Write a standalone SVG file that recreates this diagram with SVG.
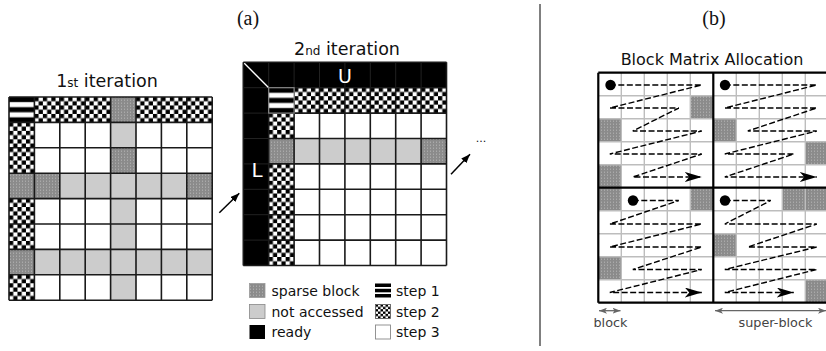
<svg xmlns="http://www.w3.org/2000/svg" width="826" height="351" viewBox="0 0 826 351">
<style>
text{font-family:"DejaVu Sans","Liberation Sans",sans-serif;fill:#111}
.serif{font-family:"Liberation Serif","DejaVu Serif",serif;font-size:20px}
.ttl{font-size:17.5px}
.leg{font-size:14px}
.ck{fill:url(#ck)}
.sp{fill:url(#sp)}
.na{fill:#cccccc}
.s1{fill:url(#s1)}
.gl{fill:none;stroke:#1a1a1a;stroke-width:1.6}
.glb{fill:none;stroke:#262626;stroke-width:0.9}
.rgl{fill:none;stroke:#bdbdbd;stroke-width:1.4}
.rbd{fill:none;stroke:#000;stroke-width:2.2}
.zz{fill:none;stroke:#000;stroke-width:1.4;stroke-dasharray:6 2.5}
.con{fill:none;stroke:#000;stroke-width:1.5}
.dim{fill:none;stroke:#666;stroke-width:1.3}
.dimt{font-size:12.8px;fill:#444}
</style>
<defs>
<pattern id="ck" patternUnits="objectBoundingBox" patternContentUnits="objectBoundingBox" width="0.33334" height="0.33334">
<rect width="0.33334" height="0.33334" fill="#fff"/>
<rect width="0.16667" height="0.16667" fill="#000"/>
<rect x="0.16667" y="0.16667" width="0.16667" height="0.16667" fill="#000"/>
</pattern>
<pattern id="s1" patternUnits="objectBoundingBox" patternContentUnits="objectBoundingBox" width="1" height="1">
<rect width="1" height="1" fill="#fff"/>
<rect width="1" height="0.2" fill="#000"/>
<rect y="0.4" width="1" height="0.2" fill="#000"/>
<rect y="0.8" width="1" height="0.2" fill="#000"/>
</pattern>
<pattern id="sp" patternUnits="userSpaceOnUse" width="3" height="3">
<rect width="3" height="3" fill="#8b8b8b"/>
<rect x="1" y="0.5" width="1" height="1.5" fill="#aaaaaa"/>
</pattern>
<marker id="big" markerUnits="userSpaceOnUse" viewBox="0 0 17 10" markerWidth="17" markerHeight="10" refX="17" refY="5" orient="auto">
<path d="M0,0 L17,5 L0,10 L4.5,5 Z" fill="#000" stroke="none"/>
</marker>
<marker id="sm" markerUnits="userSpaceOnUse" viewBox="0 0 9 7" markerWidth="9" markerHeight="7" refX="9" refY="3.5" orient="auto">
<path d="M0,0 L9,3.5 L0,7 Z" fill="#000" stroke="none"/>
</marker>
<marker id="gs" markerUnits="userSpaceOnUse" viewBox="0 0 8 6" markerWidth="8" markerHeight="6" refX="8" refY="3" orient="auto-start-reverse">
<path d="M0,0 L8,3 L0,6 L2,3 Z" fill="#666" stroke="none"/>
</marker>
</defs>
<rect width="826" height="351" fill="#fff"/>

<text class="serif" x="248" y="25" text-anchor="middle">(a)</text>
<text class="serif" x="714" y="25" text-anchor="middle">(b)</text>
<line x1="540" y1="4" x2="540" y2="346" stroke="#000" stroke-width="1"/>

<g id="iteration1">
<text class="ttl" x="107" y="87.3" text-anchor="middle">1<tspan font-size="12">st</tspan> iteration</text>
<rect x="9" y="97" width="203.2" height="203.2" fill="#fff"/>
<rect class="s1" x="9" y="97" width="25.4" height="25.4"/>
<rect class="ck" x="34.4" y="97" width="25.4" height="25.4"/>
<rect class="ck" x="59.8" y="97" width="25.4" height="25.4"/>
<rect class="ck" x="85.2" y="97" width="25.4" height="25.4"/>
<rect class="sp" x="110.6" y="97" width="25.4" height="25.4"/>
<rect class="ck" x="136" y="97" width="25.4" height="25.4"/>
<rect class="ck" x="161.4" y="97" width="25.4" height="25.4"/>
<rect class="ck" x="186.8" y="97" width="25.4" height="25.4"/>
<rect class="ck" x="9" y="122.4" width="25.4" height="25.4"/>
<rect class="na" x="110.6" y="122.4" width="25.4" height="25.4"/>
<rect class="ck" x="9" y="147.8" width="25.4" height="25.4"/>
<rect class="sp" x="110.6" y="147.8" width="25.4" height="25.4"/>
<rect class="sp" x="9" y="173.2" width="50.8" height="25.4"/>
<rect class="na" x="59.8" y="173.2" width="127" height="25.4"/>
<rect class="sp" x="186.8" y="173.2" width="25.4" height="25.4"/>
<rect class="ck" x="9" y="198.6" width="25.4" height="25.4"/>
<rect class="na" x="110.6" y="198.6" width="25.4" height="25.4"/>
<rect class="ck" x="9" y="224" width="25.4" height="25.4"/>
<rect class="na" x="110.6" y="224" width="25.4" height="25.4"/>
<rect class="sp" x="9" y="249.4" width="25.4" height="25.4"/>
<rect class="na" x="34.4" y="249.4" width="177.8" height="25.4"/>
<rect class="ck" x="9" y="274.8" width="25.4" height="25.4"/>
<rect class="na" x="110.6" y="274.8" width="25.4" height="25.4"/>
<path class="gl" d="M9 97V300.2M34.4 97V300.2M59.8 97V300.2M85.2 97V300.2M110.6 97V300.2M136 97V300.2M161.4 97V300.2M186.8 97V300.2M212.2 97V300.2M9 97H212.2M9 122.4H212.2M9 147.8H212.2M9 173.2H212.2M9 198.6H212.2M9 224H212.2M9 249.4H212.2M9 274.8H212.2M9 300.2H212.2"/>
</g>

<g id="iteration2">
<text class="ttl" x="347" y="55" text-anchor="middle">2<tspan font-size="12">nd</tspan> iteration</text>
<rect x="243.3" y="62.3" width="203.2" height="203.2" fill="#fff"/>
<rect x="243.3" y="62.3" width="203.2" height="25.4" fill="#000"/>
<rect x="243.3" y="62.3" width="25.4" height="203.2" fill="#000"/>
<path class="glb" d="M294.1 62.3V87.7M319.5 62.3V87.7M344.9 62.3V87.7M370.3 62.3V87.7M395.7 62.3V87.7M421.1 62.3V87.7M268.7 62.3V87.7M243.3 113.1H268.7M243.3 138.5H268.7M243.3 163.9H268.7M243.3 189.3H268.7M243.3 214.7H268.7M243.3 240.1H268.7M243.3 87.7H268.7"/>
<line x1="243.8" y1="62.8" x2="268.7" y2="87.7" stroke="#fff" stroke-width="1.3"/>
<text x="345" y="83" text-anchor="middle" font-size="19" style="fill:#fff">U</text>
<text x="257" y="176.5" text-anchor="middle" font-size="20" style="fill:#fff">L</text>
<rect class="ck" x="294.1" y="87.7" width="25.4" height="25.4"/>
<rect class="ck" x="319.5" y="87.7" width="25.4" height="25.4"/>
<rect class="ck" x="344.9" y="87.7" width="25.4" height="25.4"/>
<rect class="ck" x="370.3" y="87.7" width="25.4" height="25.4"/>
<rect class="ck" x="395.7" y="87.7" width="25.4" height="25.4"/>
<rect class="ck" x="421.1" y="87.7" width="25.4" height="25.4"/>
<rect class="ck" x="268.7" y="113.1" width="25.4" height="25.4"/>
<rect class="sp" x="268.7" y="138.5" width="25.4" height="25.4"/>
<rect class="na" x="294.1" y="138.5" width="127" height="25.4"/>
<rect class="sp" x="421.1" y="138.5" width="25.4" height="25.4"/>
<rect class="ck" x="268.7" y="163.9" width="25.4" height="25.4"/>
<rect class="ck" x="268.7" y="189.3" width="25.4" height="25.4"/>
<rect class="ck" x="268.7" y="214.7" width="25.4" height="25.4"/>
<rect class="ck" x="268.7" y="240.1" width="25.4" height="25.4"/>
<path class="gl" d="M294.1 87.7V265.5M319.5 87.7V265.5M344.9 87.7V265.5M370.3 87.7V265.5M395.7 87.7V265.5M421.1 87.7V265.5M446.5 62.3V265.5M268.7 113.1H446.5M268.7 138.5H446.5M268.7 163.9H446.5M268.7 189.3H446.5M268.7 214.7H446.5M268.7 240.1H446.5M243.3 265.5H446.5M268.7 87.7H446.5M268.7 87.7V265.5"/>
<rect class="s1" x="268.7" y="87.7" width="25.4" height="25.4" stroke="#8a8a8a" stroke-width="1.2"/>
<path class="gl" d="M243.3 62.3H446.5M243.3 62.3V265.5"/>
</g>

<g id="legend">
<rect class="sp" x="249.5" y="283.5" width="15.5" height="14" stroke="#999" stroke-width="0.8"/>
<text class="leg" x="271.5" y="295.5">sparse block</text>
<rect class="na" x="249.5" y="304.5" width="15.5" height="14" stroke="#888" stroke-width="0.8"/>
<text class="leg" x="271.5" y="316.5">not accessed</text>
<rect x="249.5" y="325" width="15.5" height="14" fill="#000"/>
<text class="leg" x="271.5" y="337">ready</text>
<rect x="375" y="283.5" width="16" height="3.5" fill="#000"/>
<rect x="375" y="288.8" width="16" height="3.5" fill="#000"/>
<rect x="375" y="294" width="16" height="3.5" fill="#000"/>
<text class="leg" x="396" y="295.5">step 1</text>
<rect class="ck" x="375.5" y="304.5" width="15" height="14" stroke="#555" stroke-width="0.8"/>
<text class="leg" x="396" y="316.5">step 2</text>
<rect x="375.5" y="325" width="15" height="14" fill="#fff" stroke="#888" stroke-width="0.9"/>
<text class="leg" x="396" y="337">step 3</text>
</g>

<g id="dots">
<text x="481" y="142" text-anchor="middle" font-size="11">...</text>
</g>

<g id="blockMatrix">
<text x="712" y="65" text-anchor="middle" font-size="16">Block Matrix Allocation</text>
<rect x="598.3" y="72.7" width="230" height="230" fill="#fff"/>
<rect class="sp" x="690.3" y="95.7" width="23" height="23"/>
<rect class="sp" x="598.3" y="118.7" width="23" height="23"/>
<rect class="sp" x="598.3" y="164.7" width="23" height="23"/>
<rect class="sp" x="713.3" y="118.7" width="23" height="23"/>
<rect class="sp" x="805.3" y="141.7" width="23" height="23"/>
<rect class="sp" x="598.3" y="187.7" width="23" height="23"/>
<rect class="sp" x="690.3" y="187.7" width="23" height="23"/>
<rect class="sp" x="598.3" y="256.7" width="23" height="23"/>
<rect class="sp" x="782.3" y="187.7" width="46" height="23"/>
<rect class="sp" x="713.3" y="233.7" width="23" height="23"/>
<rect class="sp" x="805.3" y="279.7" width="23" height="23"/>
<path class="rgl" d="M621.3 72.7V302.7M644.3 72.7V302.7M667.3 72.7V302.7M690.3 72.7V302.7M736.3 72.7V302.7M759.3 72.7V302.7M782.3 72.7V302.7M805.3 72.7V302.7M598.3 95.7H828M598.3 118.7H828M598.3 141.7H828M598.3 164.7H828M598.3 210.7H828M598.3 233.7H828M598.3 256.7H828M598.3 279.7H828"/>
<path class="rbd" d="M598.3 72.7H828M598.3 187.7H828M598.3 302.7H828M598.3 72.7V302.7M713.3 72.7V302.7"/>
<circle cx="610.5" cy="85" r="5.2" fill="#000"/>
<circle cx="725" cy="85" r="5.2" fill="#000"/>
<circle cx="633" cy="200.5" r="5.2" fill="#000"/>
<circle cx="725" cy="200.5" r="5.2" fill="#000"/>
</g>

<g id="connectors">
<path class="zz" marker-end="url(#big)" d="M609.8 85H701.8L609.8 108H678.8L632.8 131H701.8L609.8 154H701.8L632.8 177H701.8"/>
<path class="zz" marker-end="url(#big)" d="M724.8 85H816.8L724.8 108H816.8L747.8 131H816.8L724.8 154H793.8L724.8 177H816.8"/>
<path class="zz" marker-end="url(#big)" d="M632.8 200.5H678.8L609.8 224H701.8L609.8 247H701.8L632.8 269.5H701.8L609.8 292.5H701.8"/>
<path class="zz" marker-end="url(#big)" d="M724.8 200.5H770.8L724.8 224H816.8L747.8 247H816.8L724.8 269.5H816.8L724.8 292.5H793.8"/>
<line class="con" x1="219.3" y1="212.7" x2="239.3" y2="193.3" marker-end="url(#sm)"/>
<line class="con" x1="451" y1="174.3" x2="470" y2="154.3" marker-end="url(#sm)"/>
<line class="dim" x1="599" y1="310.7" x2="620.5" y2="310.7" marker-start="url(#gs)" marker-end="url(#gs)"/>
<line class="dim" x1="715" y1="310.7" x2="826" y2="310.7" marker-start="url(#gs)" marker-end="url(#gs)"/>
</g>
<text class="dimt" x="593.5" y="326.5">block</text>
<text class="dimt" x="775.5" y="326.5" text-anchor="middle">super-block</text>
</svg>
